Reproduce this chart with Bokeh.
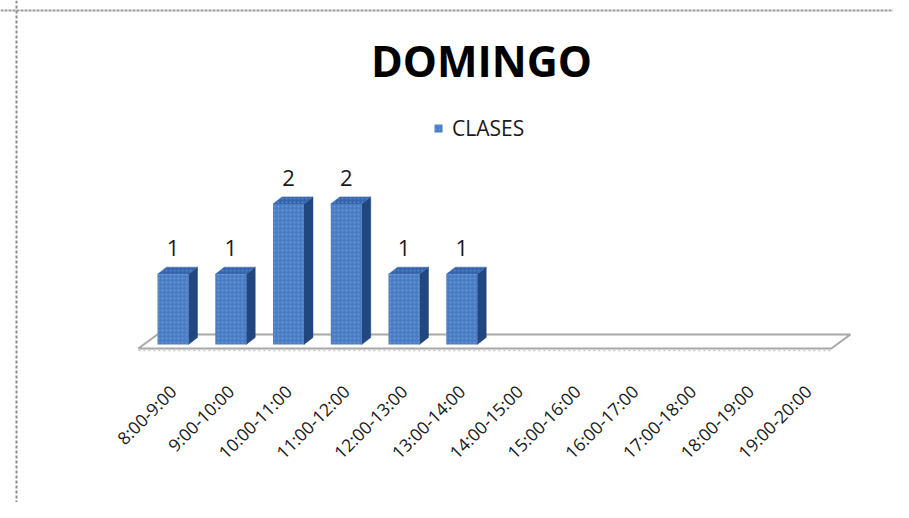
import math
from bokeh.plotting import figure
from bokeh.models import Span, Label, Legend, LegendItem, ColumnDataSource
from bokeh.core.properties import value
from bokeh.embed import file_html
from bokeh.resources import INLINE

# ---- data ----
title_text = "DOMINGO"
series_name = "CLASES"
categories = ["8:00-9:00", "9:00-10:00", "10:00-11:00", "11:00-12:00",
              "12:00-13:00", "13:00-14:00", "14:00-15:00", "15:00-16:00",
              "16:00-17:00", "17:00-18:00", "18:00-19:00", "19:00-20:00"]
clases = [1, 1, 2, 2, 1, 1, 0, 0, 0, 0, 0, 0]

# ---- geometry / style ----
W, H = 893, 502
PX_X = 57.75   # pixels per category
PX_Y = 70.3    # pixels per unit
x0_px = 172.5  # canvas px of first category
y0_px = 344    # canvas px (from top) of value 0
xs = -x0_px / PX_X
xe = xs + W / PX_X
ye = y0_px / PX_Y
ys = ye - H / PX_Y

half = 0.268
ddx, ddy = 9 / PX_X, 7 / PX_Y

FRONT = "#4A7DC4"
TOP = "#3565AD"
SIDE = "#22467E"

p = figure(width=W, height=H, x_range=(xs, xe), y_range=(ys, ye),
           output_backend="svg", toolbar_location=None, min_border=0)
p.xaxis.visible = False
p.yaxis.visible = False
p.xgrid.visible = False
p.ygrid.visible = False
p.outline_line_color = None
p.background_fill_color = "white"
p.border_fill_color = "white"

# dotted borders (top and left)
p.add_layout(Span(location=xs + 16 / PX_X, dimension="height",
                  line_color="#8C8C8C", line_width=2, line_dash="3 2"))
p.add_layout(Span(location=ye - 10 / PX_Y, dimension="width",
                  line_color="#9A9A9A", line_width=2, line_dash="3 1"))

# floor (parallelogram spanning all categories)
n = len(categories)
f_front_y, f_back_y = -4 / PX_Y, 10 / PX_Y
floor_x = [-0.5 - 0.1, n - 0.5 - 0.1, n - 0.5 + 0.23, -0.5 + 0.23]
floor_y = [f_front_y, f_front_y, f_back_y, f_back_y]
p.patch(floor_x, floor_y, fill_color="white", line_color="#A8A8A8", line_width=2)
p.line([-0.5 - 0.1, n - 0.5 - 0.1], [f_front_y - 2 / PX_Y] * 2,
       line_color="#C8C8C8", line_width=1.5, line_dash="2 3")

# 3D bars
idx = list(range(n))
side_xs, side_ys, top_xs, top_ys = [], [], [], []
for i, v in zip(idx, clases):
    if v <= 0:
        continue
    r = i + half
    l = i - half
    side_xs.append([r, r, r + ddx, r + ddx])
    side_ys.append([0, v, v + ddy, ddy])
    top_xs.append([l, r, r + ddx, l + ddx])
    top_ys.append([v, v, v + ddy, v + ddy])

p.patches(side_xs, side_ys, fill_color=SIDE, line_color=SIDE, line_width=0.5)
p.patches(top_xs, top_ys, fill_color=TOP, line_color=TOP, line_width=0.5,
          hatch_pattern="dot", hatch_color="#7FA6DD", hatch_scale=4, hatch_alpha=0.5)

src = ColumnDataSource(dict(x=idx, top=clases, cat=categories))
bars = p.vbar(x="x", top="top", bottom=0, width=2 * half, source=src,
              fill_color=FRONT, line_color=None,
              hatch_pattern="dot", hatch_color="#8FB3E6", hatch_scale=4, hatch_alpha=0.45)

# data labels (only for non-zero)
lab_src = ColumnDataSource(dict(x=[i for i, v in zip(idx, clases) if v > 0],
                                y=[v + 0.37 for v in clases if v > 0],
                                t=[str(v) for v in clases if v > 0]))
p.text(x="x", y="y", text="t", source=lab_src, text_font=value("Open Sans"),
       text_font_size="22px", text_align="center", text_baseline="alphabetic",
       text_color="#1a1a1a")

# category labels, rotated 45 degrees
cat_src = ColumnDataSource(dict(x=idx, y=[-0.62] * n, t=categories))
p.text(x="x", y="y", text="t", source=cat_src, angle=math.pi / 4,
       text_font=value("Open Sans"), text_font_size="17.5px",
       text_align="right", text_baseline="middle", text_color="#1a1a1a")

# title
p.add_layout(Label(x=481, y=H - 60, x_units="screen", y_units="screen",
                   text=title_text, text_font="Open Sans", text_font_style="bold",
                   text_font_size="43px", text_align="center",
                   text_baseline="alphabetic", text_color="black"))

# legend
legend = Legend(items=[LegendItem(label=series_name, renderers=[bars])],
                location=(433, H - 142), orientation="horizontal",
                glyph_width=10, glyph_height=10, label_standoff=9,
                label_text_font="Open Sans", label_text_font_size="21px",
                label_text_color="#1a1a1a", padding=0, margin=0,
                border_line_color=None, background_fill_alpha=0)
p.add_layout(legend)

open("out.html", "w").write(file_html(p, INLINE))
